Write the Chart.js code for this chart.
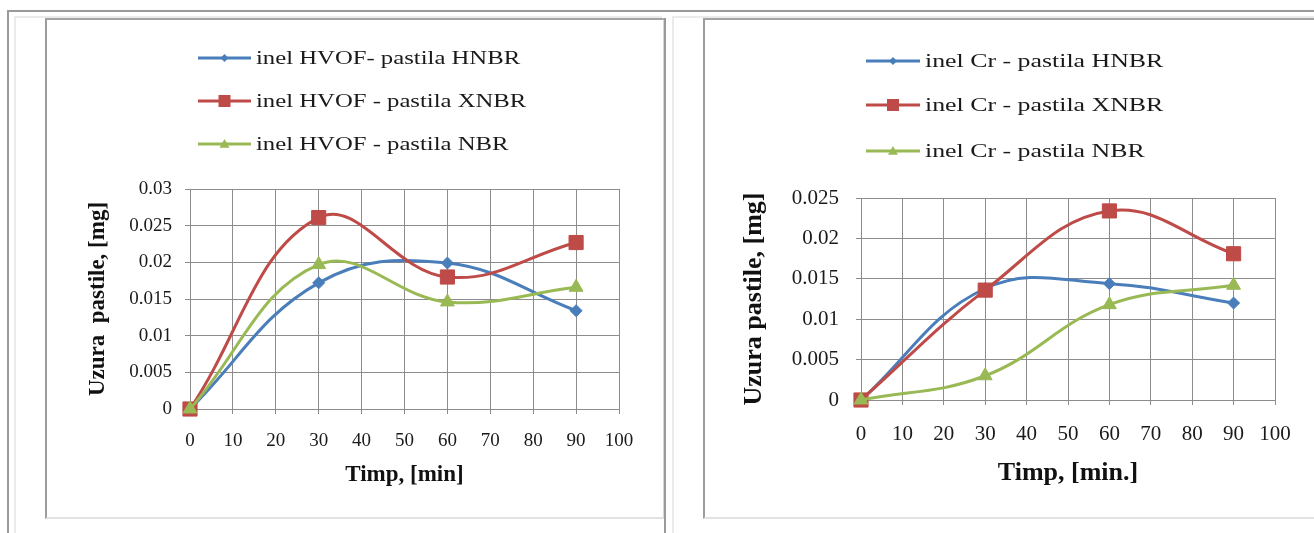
<!DOCTYPE html>
<html>
<head>
<meta charset="utf-8">
<script src="https://cdn.jsdelivr.net/npm/chart.js@4/dist/chart.umd.min.js"></script>
<style>
  html, body { margin: 0; padding: 0; background: #fff; }
  body { width: 1314px; height: 533px; position: relative; overflow: hidden; }
  .ln { position: absolute; }
  .dark { background: #9a9a9a; }
  .light { background: #ebebeb; }
  .box { position: absolute; background: #fff; box-sizing: border-box;
         border-left: 2px solid #9c9c9c; border-top: 2px solid #a4a4a4;
         border-bottom: 2px solid #e2e2e2; border-right: 2px solid #d6d6d6; }
  canvas { position: absolute; }
</style>
</head>
<body>
<!-- rama exterioara -->
<div class="ln dark" style="left:7px;top:10px;width:1307px;height:2px"></div>
<div class="ln dark" style="left:7px;top:10px;width:2px;height:523px"></div>
<div class="ln light" style="left:14px;top:16px;width:648px;height:2px"></div>
<div class="ln light" style="left:14px;top:16px;width:2px;height:517px"></div>
<div class="ln light" style="left:672px;top:16px;width:642px;height:2px"></div>
<div class="ln light" style="left:672px;top:16px;width:2px;height:517px"></div>
<div class="box" style="left:45px;top:18px;width:620px;height:501px"></div>
<div class="box" style="left:703px;top:18px;width:620px;height:501px"></div>
<div class="ln dark" style="left:664px;top:18px;width:2px;height:515px"></div>

<canvas id="chartHvof" width="618" height="499" style="left:46px;top:19px"></canvas>
<canvas id="chartCr" width="610" height="499" style="left:704px;top:19px"></canvas>

<script>
// timp [min]
const timeMin = [0, 30, 60, 90];

// inel HVOF
const hvofHNBR = [0, 0.0172, 0.0199, 0.0134];
const hvofXNBR = [0, 0.0261, 0.0180, 0.0227];
const hvofNBR  = [0, 0.0197, 0.0146, 0.0166];

// inel Cr
const crHNBR = [0, 0.0138, 0.0144, 0.0120];
const crXNBR = [0, 0.0136, 0.0234, 0.0181];
const crNBR  = [0, 0.0030, 0.0118, 0.0142];

// etichete axe
const xTicks = [0, 10, 20, 30, 40, 50, 60, 70, 80, 90, 100];
const yTicksHvof = [0, 0.005, 0.01, 0.015, 0.02, 0.025, 0.03];
const yLabelsHvof = ['0', '0.005', '0.01', '0.015', '0.02', '0.025', '0.03'];
const yTicksCr = [0, 0.005, 0.01, 0.015, 0.02, 0.025];
const yLabelsCr = ['0', '0.005', '0.01', '0.015', '0.02', '0.025'];

const hvofLabels = ['inel HVOF- pastila HNBR', 'inel HVOF - pastila XNBR', 'inel HVOF - pastila NBR'];
const crLabels = ['inel Cr - pastila HNBR', 'inel Cr - pastila XNBR', 'inel Cr - pastila NBR'];

const BLUE = '#4a7ebb', RED = '#be4b48', GREEN = '#98b954';
const SERIF = '"Liberation Serif", "Times New Roman", serif';

// marker desenat in legenda
function drawMarker(ctx, style, x, y, r, color) {
    ctx.fillStyle = color;
    ctx.beginPath();
    if (style === 'rect') {
        ctx.rect(x - r, y - r, 2 * r, 2 * r);
    } else if (style === 'rectRot') {
        ctx.moveTo(x, y - r); ctx.lineTo(x + r, y); ctx.lineTo(x, y + r); ctx.lineTo(x - r, y);
    } else {
        ctx.moveTo(x, y - r); ctx.lineTo(x + r, y + r * 0.75); ctx.lineTo(x - r, y + r * 0.75);
    }
    ctx.closePath();
    ctx.fill();
}

// legenda verticala, ca in Excel
const stackedLegend = {
    id: 'stackedLegend',
    afterDraw(chart, args, o) {
        const ctx = chart.ctx;
        ctx.save();
        chart.data.datasets.forEach((ds, i) => {
            const y = o.rows[i];
            ctx.strokeStyle = ds.borderColor;
            ctx.lineWidth = 3;
            ctx.beginPath();
            ctx.moveTo(o.x1, y);
            ctx.lineTo(o.x2, y);
            ctx.stroke();
            drawMarker(ctx, ds.pointStyle, (o.x1 + o.x2) / 2, y, o.markers[i], ds.borderColor);
            ctx.save();
            ctx.translate(o.x2 + 5, y);
            ctx.scale(o.stretch, 1);
            ctx.font = '19px ' + SERIF;
            ctx.fillStyle = '#1a1a1a';
            ctx.textBaseline = 'middle';
            ctx.fillText(ds.label, 0, 1);
            ctx.restore();
        });
        ctx.restore();
    }
};

function series(label, values, color, style, radius, order) {
    return {
        label: label,
        data: timeMin.map((t, i) => ({ x: t, y: values[i] })),
        borderColor: color,
        backgroundColor: color,
        borderWidth: 3,
        pointStyle: style,
        pointRadius: radius,
        pointBorderWidth: 1,
        tension: 0.4,
        clip: false,
        order: order
    };
}

function makeChart(id, cfg) {
    return new Chart(document.getElementById(id), {
        type: 'line',
        data: {
            datasets: [
                series(cfg.labels[0], cfg.values[0], BLUE, 'rectRot', 6, 3),
                series(cfg.labels[1], cfg.values[1], RED, 'rect', 10, 2),
                series(cfg.labels[2], cfg.values[2], GREEN, 'triangle', 8, 1)
            ]
        },
        options: {
            responsive: false,
            animation: false,
            layout: { padding: cfg.padding },
            plugins: {
                legend: { display: false },
                tooltip: { enabled: false },
                stackedLegend: cfg.legend
            },
            scales: {
                x: {
                    type: 'linear',
                    min: 0, max: 100,
                    afterBuildTicks: s => { s.ticks = xTicks.map(v => ({ value: v })); },
                    afterFit: s => { s.height = cfg.xAxisHeight; },
                    grid: { color: '#8c8c8c', tickLength: 5 },
                    border: { color: '#8c8c8c' },
                    ticks: { padding: cfg.xTickPad, color: '#1a1a1a', maxRotation: 0,
                             font: { family: SERIF, size: cfg.tickSize } },
                    title: { display: true, text: cfg.xTitle, color: '#111', padding: 0,
                             font: { family: SERIF, size: cfg.titleSize, weight: 'bold' } }
                },
                y: {
                    min: 0, max: cfg.yMax,
                    afterBuildTicks: s => { s.ticks = cfg.yTicks.map(v => ({ value: v })); },
                    afterFit: s => { s.width = cfg.yAxisWidth; },
                    grid: { color: '#8c8c8c', tickLength: 5 },
                    border: { color: '#8c8c8c' },
                    ticks: { padding: cfg.yTickPad, color: '#1a1a1a',
                             callback: (v, i) => cfg.yLabels[i],
                             font: { family: SERIF, size: cfg.tickSize } },
                    title: { display: true, text: cfg.yTitle, color: '#111', padding: 0,
                             font: { family: SERIF, size: cfg.titleSize, weight: 'bold' } }
                }
            }
        },
        plugins: [stackedLegend]
    });
}

makeChart('chartHvof', {
    labels: hvofLabels,
    values: [hvofHNBR, hvofXNBR, hvofNBR],
    yMax: 0.03,
    yTicks: yTicksHvof,
    yLabels: yLabelsHvof,
    xTitle: 'Timp, [min]',
    yTitle: 'Uzura  pastile, [mg]',
    tickSize: 19,
    titleSize: 23,
    padding: { left: 38, top: 170, right: 45, bottom: 29 },
    yAxisWidth: 106,
    xAxisHeight: 80,
    xTickPad: 16,
    yTickPad: 13,
    legend: { x1: 152, x2: 205, rows: [39, 82, 125], markers: [4, 6, 5], stretch: 1.3 }
});

makeChart('chartCr', {
    labels: crLabels,
    values: [crHNBR, crXNBR, crNBR],
    yMax: 0.025,
    yTicks: yTicksCr,
    yLabels: yLabelsCr,
    xTitle: 'Timp, [min.]',
    yTitle: 'Uzura pastile, [mg]',
    tickSize: 21,
    titleSize: 26,
    padding: { left: 35, top: 179, right: 39, bottom: 29 },
    yAxisWidth: 122,
    xAxisHeight: 89,
    xTickPad: 17,
    yTickPad: 17,
    legend: { x1: 162, x2: 216, rows: [42, 86, 132], markers: [4, 6, 5], stretch: 1.36 }
});
</script>
</body>
</html>
